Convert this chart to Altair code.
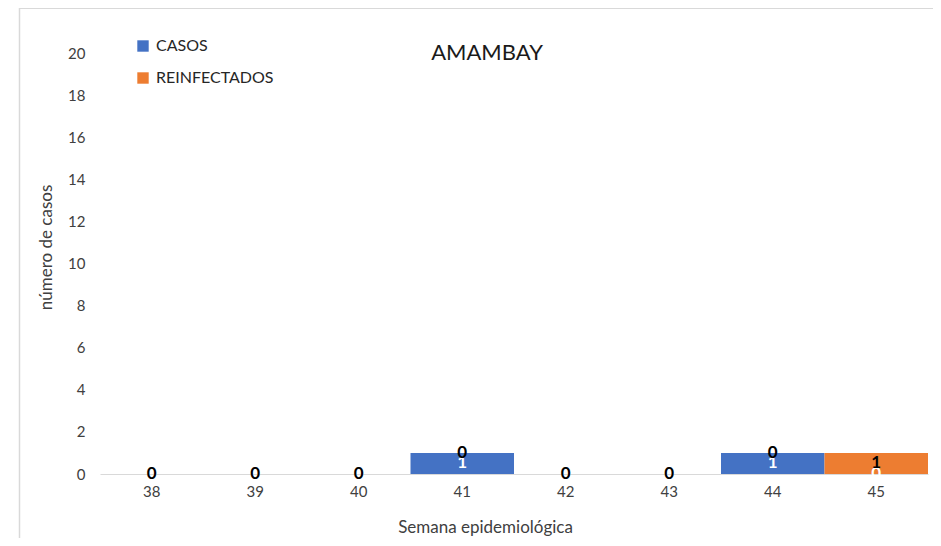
import altair as alt
import pandas as pd

weeks = ["38", "39", "40", "41", "42", "43", "44", "45"]
casos = [0, 0, 0, 1, 0, 0, 1, 0]
reinfectados = [0, 0, 0, 0, 0, 0, 0, 1]
series_names = ["CASOS", "REINFECTADOS"]
series_colors = ["#4472C4", "#ED7D31"]
label_colors = ["white", "black"]
y_ticks = [0, 2, 4, 6, 8, 10, 12, 14, 16, 18, 20]

rows = []
for i, w in enumerate(weeks):
    rows.append({"week": w, "series": "CASOS", "value": casos[i], "ord": 0})
for i, w in enumerate(weeks):
    rows.append({"week": w, "series": "REINFECTADOS", "value": reinfectados[i], "ord": 1})
df = pd.DataFrame(rows)

FONT = "Lato"
TXT = "#404040"
FRAME = "#D9D9D9"

base = alt.Chart(df).transform_stack(
    stack="value", groupby=["week"], as_=["y0", "y1"],
    sort=[alt.SortField("ord", order="ascending")]
).transform_calculate(mid="(datum.y0 + datum.y1) / 2")

x_enc = alt.X(
    "week:N", sort=weeks,
    scale=alt.Scale(paddingInner=0, paddingOuter=0),
    axis=alt.Axis(
        title="Semana epidemiológica", labelAngle=0, ticks=False,
        domainColor=FRAME, domainWidth=1.2, labelPadding=10,
        labelFont=FONT, labelFontSize=15, labelColor=TXT,
        titleFont=FONT, titleFontSize=17, titleFontWeight="normal", titleColor=TXT,
        titleX=385, titleY=58, titleBaseline="alphabetic", titleAlign="center",
    ),
)

bars = base.mark_bar(strokeWidth=0).encode(
    x=x_enc,
    y=alt.Y(
        "y0:Q",
        scale=alt.Scale(domain=[0, 20], nice=False),
        axis=alt.Axis(
            title="número de casos", values=y_ticks, grid=False, domain=False,
            ticks=False, labelPadding=15,
            labelFont=FONT, labelFontSize=15, labelColor=TXT,
            titleFont=FONT, titleFontSize=17, titleFontWeight="normal", titleColor=TXT,
            titleX=-54, titleY=194, titleAngle=-90, titleAlign="center",
            titleBaseline="middle",
        ),
    ),
    y2="y1:Q",
    color=alt.Color(
        "series:N",
        scale=alt.Scale(domain=series_names, range=series_colors),
        legend=alt.Legend(
            title=None, orient="none", legendX=35, legendY=-15,
            symbolType="square", symbolSize=130, symbolStrokeWidth=0,
            labelFont=FONT, labelFontSize=16, labelColor="#262626",
            rowPadding=16, labelOffset=5,
        ),
    ),
)

labels = base.mark_text(
    font=FONT, fontSize=17, fontWeight="bold", baseline="middle", align="center"
).encode(
    x=alt.X("week:N", sort=weeks),
    y=alt.Y("mid:Q"),
    text=alt.Text("value:Q"),
    color=alt.Color("series:N", scale=alt.Scale(domain=series_names, range=label_colors), legend=None),
    order=alt.Order("ord:Q"),
)

# chart-area border (left and top edges visible in the reference)
one = pd.DataFrame({"k": [0]})
frame_left = alt.Chart(one).mark_rule(color=FRAME, strokeWidth=1.5).encode(
    x=alt.value(-80.5), y=alt.value(-45), y2=alt.value(490)
)
frame_top = alt.Chart(one).mark_rule(color=FRAME, strokeWidth=2).encode(
    x=alt.value(-81), x2=alt.value(840), y=alt.value(-45)
)

chart = alt.layer(frame_left, frame_top, bars, labels).resolve_scale(color="independent").properties(
    width=828, height=421,
    autosize=alt.AutoSizeParams(type="none"),
    padding={"left": 92, "top": 45, "right": 5, "bottom": 64},
    title=alt.TitleParams(
        "AMAMBAY", anchor="middle", frame="group", offset=0, dx=-27, dy=75,
        baseline="alphabetic", font=FONT, fontSize=22, fontWeight="normal", color="#1a1a1a",
    ),
).configure(background="white", view=alt.ViewConfig(strokeWidth=0, stroke="transparent"))

chart.save("out.html", embed_options={"renderer": "svg", "actions": False})
